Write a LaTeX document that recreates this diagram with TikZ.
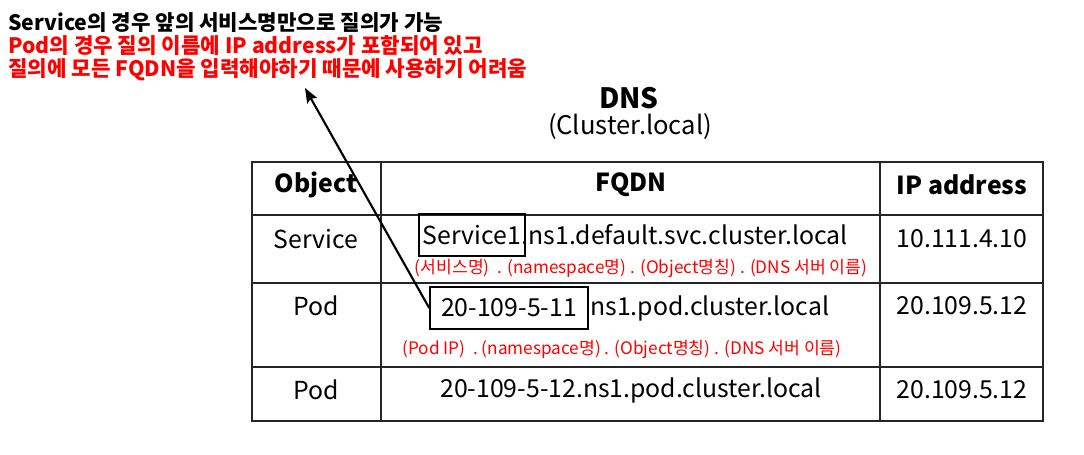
\documentclass[tikz,border=0pt]{standalone}
\usepackage{fontspec}
\setmainfont{Noto Sans CJK KR}
\usetikzlibrary{arrows,arrows.meta,positioning,calc}
\tikzset{
    cell/.style =   {text=black,
                    inner sep=0pt,
                    font=\fontsize{18.6}{21}\selectfont},
    head/.style =   {text=black,
                    inner sep=0pt,
                    font=\fontsize{18.6}{21}\selectfont\bfseries},
    hint/.style =   {text=red,
                    inner sep=0pt,
                    font=\fontsize{12.9}{15}\selectfont},
    keybox/.style = {rectangle,
                    draw=black,
                    line width=1.7pt,
                    text=black,
                    inner xsep=3pt,
                    minimum height=31pt,
                    font=\fontsize{18.6}{21}\selectfont},
    note/.style =   {align=left,
                    inner sep=0pt,
                    font=\fontsize{15.9}{17.5}\selectfont\bfseries},
    grid/.style =   {draw=black!85,
                    line width=1.4pt},
    -,
    >={Stealth[length=11pt,width=8.5pt,inset=2pt]},
    node distance=2cm}

\begin{document}
\begin{tikzpicture}[x=0.75pt,y=-0.75pt]
                \useasboundingbox (0,0) rectangle (1084,454);
                % note above
                \node[note, anchor=north west] (note) at (8,12)
                    {Service의 경우 앞의 서비스명만으로 질의가 가능\\
                    \color{red}Pod의 경우 질의 이름에 IP address가 포함되어 있고\\
                    \color{red}질의에 모든 FQDN을 입력해야하기 때문에 사용하기 어려움};
                \coordinate (tip) at (305,88);
                % title
                \node[head, font=\fontsize{21}{24}\selectfont\bfseries] (dns)  at (629,98)  {DNS};
                \node[cell, font=\fontsize{19.2}{22}\selectfont]        (zone) at (630,127) {(Cluster.local)};
                % table
                \draw[grid] (252,162) rectangle (1043,421);
                \foreach \y in {215,283,367}
                    \draw[grid] (252,\y) -- (1043,\y);
                \foreach \x in {381,880}
                    \draw[grid] (\x,162) -- (\x,421);
                \node[head]       (hobj) at (316,185)        {Object};
                \node[head]       (hfq)  at (631,185)        {FQDN};
                \node[head]       (hip)  at (962,185)        {IP address};
                % service row
                \node[cell]       (obj1) at (316,239)        {Service};
                \node[keybox, minimum width=79pt] (svc1) at (472,235) {Service1};
                \node[cell]       (fq1)  [right=-3.5pt of svc1] {.ns1.default.svc.cluster.local};
                \node[hint]       (hn1)  at (641,268)        {(서비스명)\ \ . (namespace명) . (Object명칭) . (DNS 서버 이름)};
                \node[cell]       (ip1)  at (962,239)        {10.111.4.10};
                % pod row
                \node[cell]       (obj2) at (316,306)        {Pod};
                \node[keybox, minimum width=118pt] (pod1) at (509,308) {20-109-5-11};
                \node[cell]       (fq2)  [right=1pt of pod1] {ns1.pod.cluster.local};
                \node[hint]       (hn2)  at (622,349)        {(Pod IP)\ \ . (namespace명) . (Object명칭) . (DNS 서버 이름)};
                \node[cell]       (ip2)  at (962,306)        {20.109.5.12};
                % last row
                \node[cell]       (obj3) at (316,390)        {Pod};
                \node[cell]       (fq3)  at (631,390)        {20-109-5-12.ns1.pod.cluster.local};
                \node[cell]       (ip3)  at (962,390)        {20.109.5.12};
                \path [line width=1.6pt,->]  (pod1.west) edge [] (tip);
        \end{tikzpicture}
\end{document}
